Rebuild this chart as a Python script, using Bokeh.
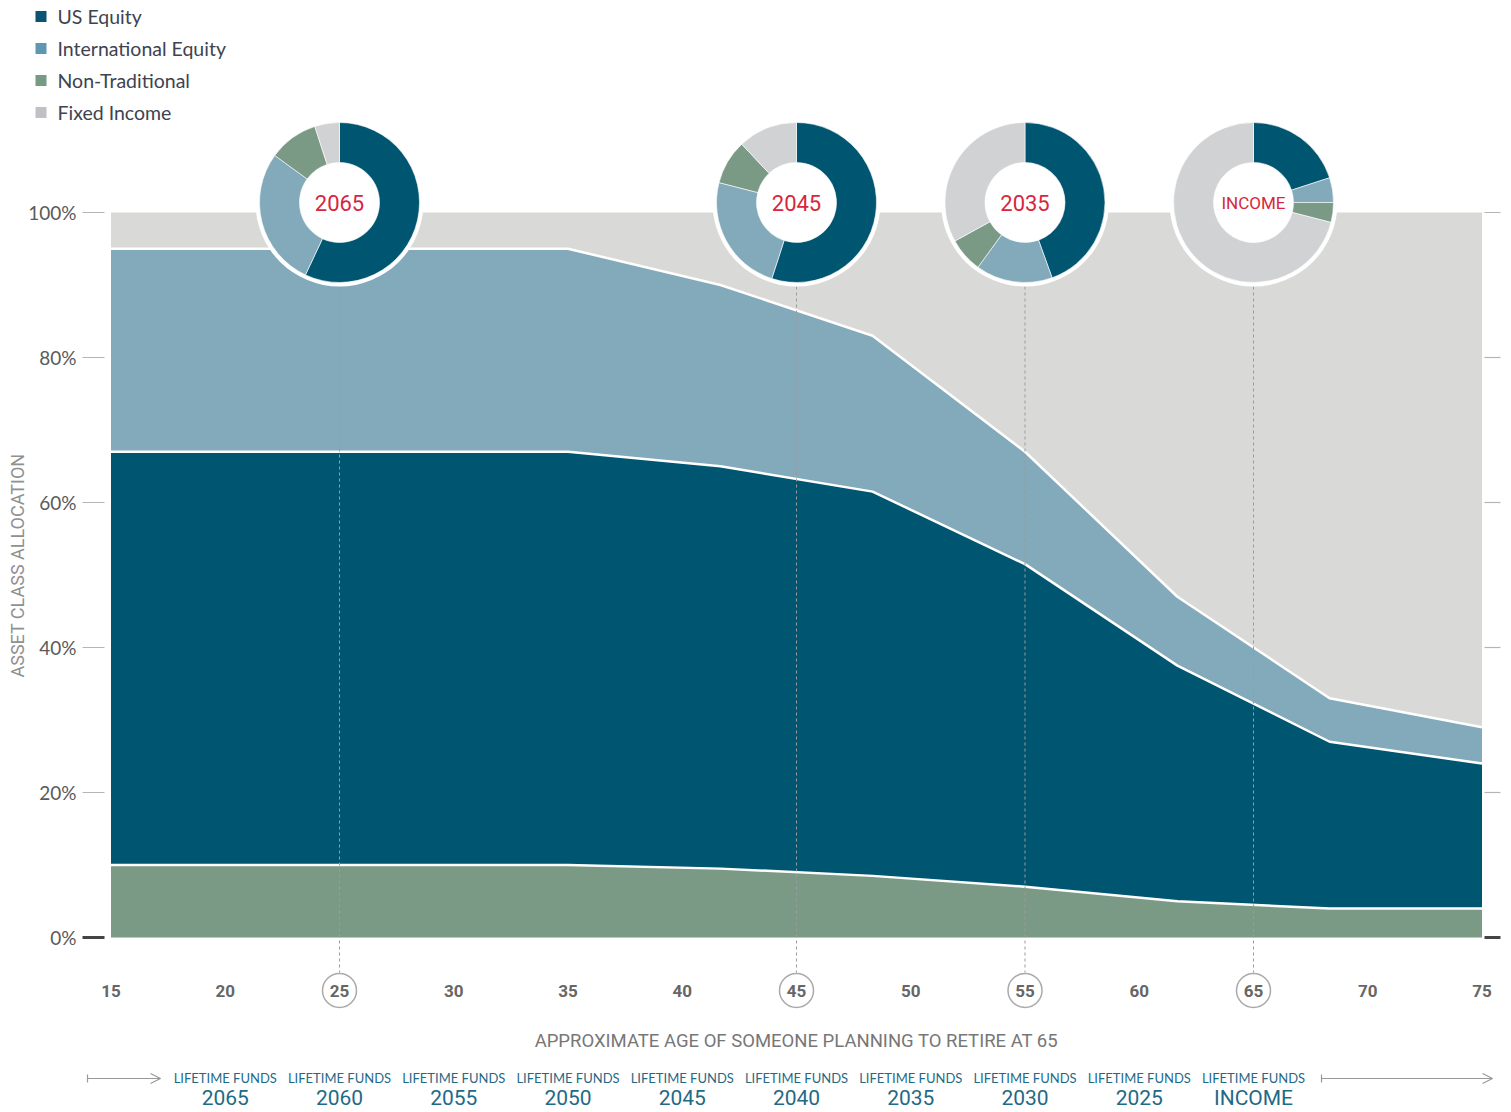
import math
import numpy as np
from bokeh.plotting import figure
from bokeh.models import Range1d, ColumnDataSource, Arrow, OpenHead, TeeHead
from bokeh.embed import file_html
from bokeh.resources import INLINE
from bokeh.core.properties import value

# ---------------- data ----------------
ages = [15, 35, 41.67, 48.33, 55, 61.67, 68.33, 75]
non_traditional = [10, 10, 9.5, 8.5, 7, 5, 4, 4]
us_equity = [57, 57, 55.5, 53, 44.5, 32.5, 23, 20]
intl_equity = [28, 28, 25, 21.5, 15.5, 9.5, 6, 5]
fixed_income = [5, 5, 10, 17, 33, 53, 67, 71]

series_names = ["US Equity", "International Equity", "Non-Traditional", "Fixed Income"]

y_ticks = [0, 20, 40, 60, 80, 100]
y_tick_labels = ["0%", "20%", "40%", "60%", "80%", "100%"]
x_ticks = [15, 20, 25, 30, 35, 40, 45, 50, 55, 60, 65, 70, 75]
x_tick_labels = ["15", "20", "25", "30", "35", "40", "45", "50", "55", "60", "65", "70", "75"]
highlight_ages = [25, 45, 55, 65]

donut_labels = ["2065", "2045", "2035", "INCOME"]
donut_ages = [25, 45, 55, 65]
donut_us = [57, 55, 44.5, 20]
donut_intl = [28, 24, 15.5, 5]
donut_nt = [10, 9, 7, 4]
donut_fi = [5, 12, 33, 71]

fund_ages = [20, 25, 30, 35, 40, 45, 50, 55, 60, 65]
fund_names = ["2065", "2060", "2055", "2050", "2045", "2040", "2035", "2030", "2025", "INCOME"]

x_title = "APPROXIMATE AGE OF SOMEONE PLANNING TO RETIRE AT 65"
y_title = "ASSET CLASS ALLOCATION"

# ---------------- styles ----------------
US_C = "#005571"
INTL_C = "#82aabb"
NT_C = "#7a9a86"
FI_C = "#d9d9d8"
DONUT_FI_C = "#d1d2d4"
LEG_COLORS = ["#0c5372", "#5f97b2", "#779a85", "#c0c1c5"]
RED = "#d7263d"
TEAL = "#1f6a86"

W, H = 1511, 1112
AGE15_PX = 110.5
PX_PER_YEAR = 22.85
ZERO_PX = 937.0
PX_PER_PCT = 7.25


def age_at(px):
    return 15 + (px - AGE15_PX) / PX_PER_YEAR


def pct_at(py):
    return (ZERO_PX - py) / PX_PER_PCT


p = figure(width=W, height=H, x_range=Range1d(age_at(0), age_at(W)),
           y_range=Range1d(pct_at(H), pct_at(0)), output_backend="svg",
           toolbar_location=None, min_border=0, outline_line_color=None,
           x_axis_location=None, y_axis_location=None)
p.xgrid.grid_line_color = None
p.ygrid.grid_line_color = None
p.background_fill_color = "white"
p.border_fill_color = "white"

# ---------------- stacked areas ----------------
src = ColumnDataSource(dict(age=ages, nt=non_traditional, us=us_equity,
                            intl=intl_equity, fi=fixed_income))
p.varea_stack(stackers=["nt", "us", "intl", "fi"], x="age",
              color=[NT_C, US_C, INTL_C, FI_C], source=src)

c1 = np.array(non_traditional, dtype=float)
c2 = c1 + np.array(us_equity)
c3 = c2 + np.array(intl_equity)
for c in (c1, c2, c3):
    p.line(ages, list(c), line_color="white", line_width=2.5)

# dashed guide lines
p.segment(x0=highlight_ages, y0=[pct_at(286)] * 4, x1=highlight_ages,
          y1=[pct_at(972)] * 4, line_color="#9b9b9b", line_width=1, line_dash="3 3")

# ---------------- donuts ----------------
cy = pct_at(202)
p.circle(x=donut_ages, y=[cy] * 4, radius=84, radius_units="screen",
         fill_color="white", line_color=None)
dx, dy, ds, de, dc = [], [], [], [], []
for i, a in enumerate(donut_ages):
    vals = [donut_us[i], donut_intl[i], donut_nt[i], donut_fi[i]]
    cols = [US_C, INTL_C, NT_C, DONUT_FI_C]
    cum = 0
    tot = sum(vals)
    for v, col in zip(vals, cols):
        dx.append(a)
        dy.append(cy)
        ds.append(math.pi / 2 - 2 * math.pi * cum / tot)
        cum += v
        de.append(math.pi / 2 - 2 * math.pi * cum / tot)
        dc.append(col)
p.annular_wedge(x="x", y="y", inner_radius=40, outer_radius=80,
                inner_radius_units="screen", outer_radius_units="screen",
                start_angle="s", end_angle="e", direction="clock",
                fill_color="c", line_color="white", line_width=0.6,
                source=ColumnDataSource(dict(x=dx, y=dy, s=ds, e=de, c=dc)))
p.text(x=donut_ages, y=[cy] * 4, text=donut_labels,
       text_font_size=["22px", "22px", "22px", "17px"],
       text_font=value("Roboto"), text_color=RED, text_align="center",
       text_baseline="middle")

# ---------------- y axis (drawn) ----------------
lx0, lx1 = age_at(82), age_at(104)
rx0, rx1 = age_at(1484), age_at(1500)
p.segment(x0=[lx0] * 5, y0=y_ticks[1:], x1=[lx1] * 5, y1=y_ticks[1:],
          line_color="#b5b5b5", line_width=1.2)
p.segment(x0=[rx0] * 5, y0=y_ticks[1:], x1=[rx1] * 5, y1=y_ticks[1:],
          line_color="#b5b5b5", line_width=1.2)
p.segment(x0=[lx0, rx0], y0=[0, 0], x1=[lx1, rx1], y1=[0, 0],
          line_color="#444444", line_width=3)
p.text(x=[age_at(76)] * len(y_ticks), y=y_ticks, text=y_tick_labels,
       text_font=value("Lato"), text_font_size="19px", text_color="#5a5a5a",
       text_align="right", text_baseline="middle")
p.text(x=[age_at(17)], y=[pct_at(565)], text=[y_title], angle=math.pi / 2,
       text_font=value("Roboto"), text_font_size="18px", text_color="#909090",
       text_align="center", text_baseline="middle")

# ---------------- x axis (drawn) ----------------
xy = pct_at(990)
p.circle(x=highlight_ages, y=[xy] * 4, radius=17, radius_units="screen",
         fill_color="white", line_color="#aaaaaa", line_width=1.5)
p.text(x=x_ticks, y=[xy] * len(x_ticks), text=x_tick_labels,
       text_font=value("Roboto"), text_font_size="17px", text_color="#666666",
       text_font_style="bold", text_align="center", text_baseline="middle")
p.text(x=[45], y=[pct_at(1040)], text=[x_title], text_font=value("Roboto"),
       text_font_size="18.5px", text_color="#777777", text_align="center",
       text_baseline="middle")

# fund labels
p.text(x=fund_ages, y=[pct_at(1077)] * len(fund_ages),
       text=["LIFETIME FUNDS"] * len(fund_ages), text_font=value("Lato"),
       text_font_size="13px", text_color=TEAL,
       text_align="center", text_baseline="middle")
p.text(x=fund_ages, y=[pct_at(1097)] * len(fund_ages), text=fund_names,
       text_font=value("Roboto"), text_font_size="21px", text_color=TEAL,
       text_align="center", text_baseline="middle")

ay = pct_at(1078)
p.add_layout(Arrow(x_start=age_at(87), y_start=ay, x_end=age_at(160), y_end=ay,
                   start=TeeHead(size=8, line_color="#999999", line_width=1.2),
                   end=OpenHead(size=10, line_color="#999999", line_width=1.2),
                   line_color="#999999", line_width=1.2))
p.add_layout(Arrow(x_start=age_at(1321), y_start=ay, x_end=age_at(1492), y_end=ay,
                   start=TeeHead(size=8, line_color="#999999", line_width=1.2),
                   end=OpenHead(size=10, line_color="#999999", line_width=1.2),
                   line_color="#999999", line_width=1.2))

# ---------------- legend (drawn) ----------------
leg_y = [pct_at(16), pct_at(48), pct_at(80), pct_at(112)]
p.scatter(x=[age_at(40.5)] * 4, y=leg_y, marker="square", size=11,
          fill_color=LEG_COLORS, line_color=None)
p.text(x=[age_at(57)] * 4, y=leg_y, text=series_names, text_font=value("Lato"),
       text_font_size="19.5px", text_color="#3d4350", text_align="left",
       text_baseline="middle")

open("out.html", "w").write(file_html(p, INLINE))
